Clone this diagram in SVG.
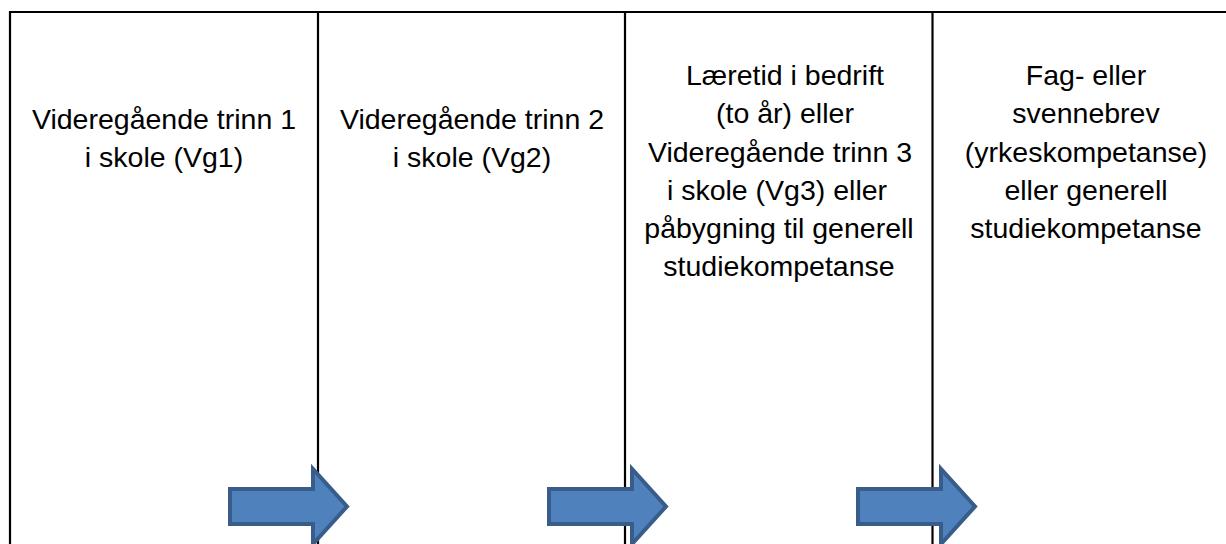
<svg xmlns="http://www.w3.org/2000/svg" width="1226" height="544" viewBox="0 0 1226 544">
<style>
.frame{stroke:#000;stroke-width:2.2;fill:none}
.lbl{font-family:"Liberation Sans",Arial,sans-serif;font-size:28.5px;fill:#000;text-anchor:middle}
.arr{fill:#4f81bd;stroke:#385d8a;stroke-width:4;stroke-linejoin:miter}
</style>
<defs>
<polygon id="arrowShape" points="230,489 313,489 313,469 347,506.5 313,544 313,524 230,524"/>
</defs>
<rect width="1226" height="544" fill="#fff"/>
<g id="frame">
<path class="frame" d="M10,560 V12 H1240"/>
<line class="frame" x1="318" y1="12" x2="318" y2="560"/>
<line class="frame" x1="625" y1="12" x2="625" y2="560"/>
<line class="frame" x1="932.5" y1="12" x2="932.5" y2="560"/>
</g>
<g id="node-vg1">
<text class="lbl" x="164" y="128.5">Videregående trinn 1</text>
<text class="lbl" x="164" y="167">i skole (Vg1)</text>
</g>
<g id="node-vg2">
<text class="lbl" x="472" y="128.5">Videregående trinn 2</text>
<text class="lbl" x="472" y="167">i skole (Vg2)</text>
</g>
<g id="node-vg3">
<text class="lbl" x="785" y="85">Læretid i bedrift</text>
<text class="lbl" x="785" y="123">(to år) eller</text>
<text class="lbl" x="780" y="161.5">Videregående trinn 3</text>
<text class="lbl" x="777" y="199.5">i skole (Vg3) eller</text>
<text class="lbl" x="779" y="238">påbygning til generell</text>
<text class="lbl" x="779" y="276">studiekompetanse</text>
</g>
<g id="node-brev">
<text class="lbl" x="1086" y="85">Fag- eller</text>
<text class="lbl" x="1086" y="123">svennebrev</text>
<text class="lbl" x="1086" y="161.5">(yrkeskompetanse)</text>
<text class="lbl" x="1086" y="199.5">eller generell</text>
<text class="lbl" x="1086" y="238">studiekompetanse</text>
</g>
<g id="connectors">
<use href="#arrowShape" class="arr"/>
<use href="#arrowShape" class="arr" transform="translate(319,0)"/>
<use href="#arrowShape" class="arr" transform="translate(628,0)"/>
</g>
</svg>
